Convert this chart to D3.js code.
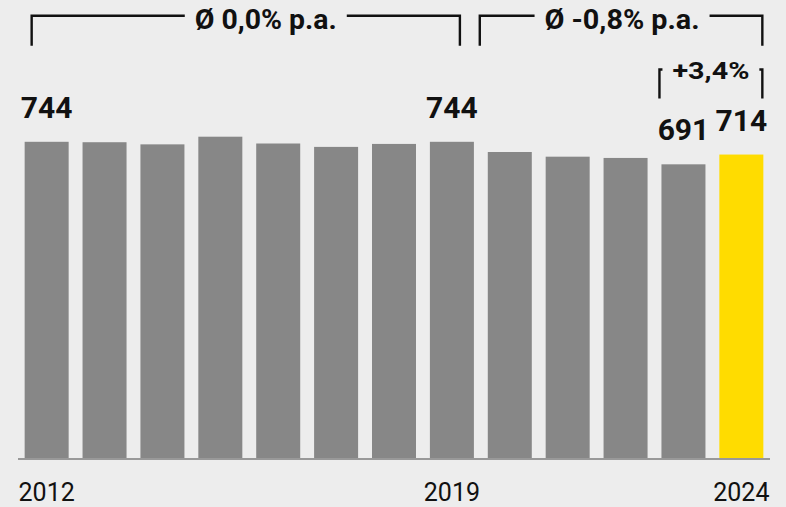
<!DOCTYPE html>
<html lang="de">
<head>
<meta charset="utf-8">
<title>Bars 2012-2024</title>
<script src="https://cdn.jsdelivr.net/npm/d3@7"></script>
<style>
  html, body { margin: 0; padding: 0; background: #ededed; }
  svg { display: block; }
</style>
</head>
<body>
<script>
// data
var years  = [2012, 2013, 2014, 2015, 2016, 2017, 2018, 2019, 2020, 2021, 2022, 2023, 2024];
var values = [744, 743, 738, 756, 740, 732, 739, 744, 720, 709, 706, 691, 714];
var labelYears = [2012, 2019, 2023, 2024];   // bars that carry a value
var tickYears  = [2012, 2019, 2024];
var highlightYear = 2024;

// the brackets on top
var bracketFrom  = [2012, 2020];
var bracketTo    = [2019, 2024];
var bracketText  = ["Ø 0,0% p.a.", "Ø -0,8% p.a."];
var changeFrom = 2023, changeTo = 2024, changeText = "+3,4%";

var W = 786, H = 507;
var font = "Roboto, 'Open Sans', sans-serif";

var svg = d3.select("body").append("svg")
    .attr("width", W)
    .attr("height", H);

svg.append("rect").attr("width", W).attr("height", H).attr("fill", "#ededed");

var x = d3.scaleBand()
    .domain(years)
    .range([18, 770])
    .paddingInner(0.24)
    .paddingOuter(0.115);

var y = d3.scaleLinear()
    .domain([0, 800])
    .range([458, 118]);

var bw = x.bandwidth();

// bars
svg.selectAll("rect.bar")
    .data(years)
    .enter()
    .append("rect")
    .attr("class", "bar")
    .attr("x", function(d) { return x(d); })
    .attr("y", function(d, i) { return y(values[i]); })
    .attr("width", bw)
    .attr("height", function(d, i) { return y(0) - y(values[i]); })
    .attr("fill", function(d) { return d === highlightYear ? "#ffdc00" : "#878787"; });

// baseline
svg.append("line")
    .attr("x1", 18).attr("x2", 770)
    .attr("y1", y(0) + 1).attr("y2", y(0) + 1)
    .attr("stroke", "#999")
    .attr("stroke-width", 2);

// year ticks
svg.selectAll("text.year")
    .data(tickYears)
    .enter()
    .append("text")
    .attr("class", "year")
    .attr("x", function(d) { return x(d) + bw / 2; })
    .attr("y", 501)
    .attr("text-anchor", "middle")
    .attr("font-family", font)
    .attr("font-size", "25px")
    .attr("fill", "#111")
    .text(function(d) { return d; });

// value labels
svg.selectAll("text.val")
    .data(labelYears)
    .enter()
    .append("text")
    .attr("class", "val")
    .attr("x", function(d) { return x(d) + bw / 2; })
    .attr("y", function(d) { return y(values[years.indexOf(d)]) - 24; })
    .attr("text-anchor", "middle")
    .attr("font-family", font)
    .attr("font-weight", "bold")
    .attr("font-size", "30px")
    .attr("fill", "#111")
    .text(function(d) { return values[years.indexOf(d)]; });

// big brackets with text sitting in a gap of the top line
var bTop = 15.7, bBot = 45.7;
var bLeft  = [x(bracketFrom[0]) + 7, x(bracketFrom[1]) - 8];
var bRight = [x(bracketTo[0]) + 30, x(bracketTo[1]) + bw - 1];
var shift = [20, 1];
var textW = [142, 155];

bracketText.forEach(function(t, i) {
    var cx = (bLeft[i] + bRight[i]) / 2 + shift[i];
    var txt = svg.append("text")
        .attr("x", cx)
        .attr("y", 28.5)
        .attr("text-anchor", "middle")
        .attr("font-family", font)
        .attr("font-weight", "bold")
        .attr("font-size", "28px")
        .attr("textLength", textW[i])
        .attr("lengthAdjust", "spacingAndGlyphs")
        .attr("fill", "#111")
        .text(t);
    var gapL = cx - textW[i] / 2 - 10, gapR = cx + textW[i] / 2 + 10;
    svg.append("path")
        .attr("d", "M" + bLeft[i] + "," + bBot + "V" + bTop + "H" + gapL +
                   "M" + gapR + "," + bTop + "H" + bRight[i] + "V" + bBot)
        .attr("fill", "none")
        .attr("stroke", "#111")
        .attr("stroke-width", 2.4);
});

// small bracket for last change
var sL = x(changeFrom) - 2, sR = x(changeTo) + bw - 1;
svg.append("path")
    .attr("d", "M" + (sL + 3) + ",69.5H" + sL + "V98.5" +
               "M" + (sR - 3) + ",69.5H" + sR + "V98.5")
    .attr("fill", "none")
    .attr("stroke", "#111")
    .attr("stroke-width", 2.4);

svg.append("text")
    .attr("x", (sL + sR) / 2)
    .attr("y", 78.5)
    .attr("text-anchor", "middle")
    .attr("font-family", font)
    .attr("font-weight", "bold")
    .attr("font-size", "23px")
    .attr("textLength", 77)
    .attr("lengthAdjust", "spacingAndGlyphs")
    .attr("fill", "#111")
    .text(changeText);
</script>
</body>
</html>
